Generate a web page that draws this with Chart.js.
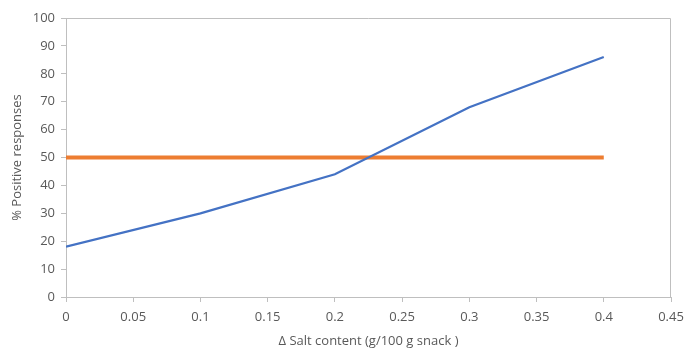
<!DOCTYPE html>
<html>
<head>
<meta charset="utf-8">
<script src="https://cdn.jsdelivr.net/npm/chart.js@4"></script>
<style>
  html, body { margin: 0; padding: 0; background: #fff; }
  #wrap { width: 684px; height: 349px; }
</style>
</head>
<body>
<div id="wrap"><canvas id="grafico"></canvas></div>
<script>
const saltContent = [0, 0.1, 0.2, 0.3, 0.4];
const positiveResponses = [18, 30, 44, 68, 86];
const thresholdX = [0, 0.4];
const thresholdY = [50, 50];

const corTexto = '#595959';
const corEixo = '#bfbfbf';
const fonte = { family: "'Open Sans', 'Liberation Sans', sans-serif", size: 13 };

// moldura cinza em volta da área do gráfico
const moldura = {
    id: 'moldura',
    afterDraw(chart) {
        const { ctx, chartArea: a } = chart;
        ctx.save();
        ctx.strokeStyle = corEixo;
        ctx.lineWidth = 1;
        ctx.beginPath();
        ctx.moveTo(a.left, a.top + 0.5);
        ctx.lineTo(a.right - 0.5, a.top + 0.5);
        ctx.lineTo(a.right - 0.5, a.bottom);
        ctx.stroke();
        ctx.restore();
    }
};

new Chart(document.getElementById('grafico'), {
    type: 'scatter',
    data: {
        datasets: [{
            label: '% Positive responses',
            data: saltContent.map((x, i) => ({ x: x, y: positiveResponses[i] })),
            showLine: true,
            borderColor: '#4472C4',
            borderWidth: 2.25,
            pointRadius: 0,
            tension: 0
        }, {
            label: '50%',
            data: thresholdX.map((x, i) => ({ x: x, y: thresholdY[i] })),
            showLine: true,
            borderColor: '#ED7D31',
            borderWidth: 4,
            pointRadius: 0
        }]
    },
    options: {
        responsive: true,
        maintainAspectRatio: false,
        animation: false,
        layout: { padding: { top: 18, right: 13, left: 0, bottom: 0 } },
        plugins: {
            legend: { display: false },
            tooltip: { enabled: false }
        },
        scales: {
            x: {
                type: 'linear',
                min: 0,
                max: 0.45,
                ticks: {
                    stepSize: 0.05,
                    color: corTexto,
                    font: fonte,
                    padding: 7,
                    maxRotation: 0,
                    callback: v => Math.round(v * 100) / 100
                },
                grid: {
                    display: true,
                    drawOnChartArea: false,
                    drawTicks: true,
                    tickLength: 5,
                    color: corEixo
                },
                border: { display: true, color: corEixo },
                title: {
                    display: true,
                    text: '\u0394 Salt content (g/100 g snack )',
                    color: corTexto,
                    font: fonte,
                    padding: { top: 2, bottom: 0 }
                },
                afterFit: s => {
                    s.height = 52;
                    s.paddingLeft = 0;
                    s.paddingRight = 0;
                }
            },
            y: {
                min: 0,
                max: 100,
                ticks: {
                    stepSize: 10,
                    color: corTexto,
                    font: fonte,
                    padding: 6
                },
                grid: {
                    display: true,
                    drawOnChartArea: false,
                    drawTicks: true,
                    tickLength: 5,
                    color: corEixo
                },
                border: { display: true, color: corEixo },
                title: {
                    display: true,
                    text: '% Positive responses',
                    color: corTexto,
                    font: fonte,
                    padding: { top: 9, bottom: 0 }
                },
                afterFit: s => { s.width = 66; }
            }
        }
    },
    plugins: [moldura]
});
</script>
</body>
</html>
